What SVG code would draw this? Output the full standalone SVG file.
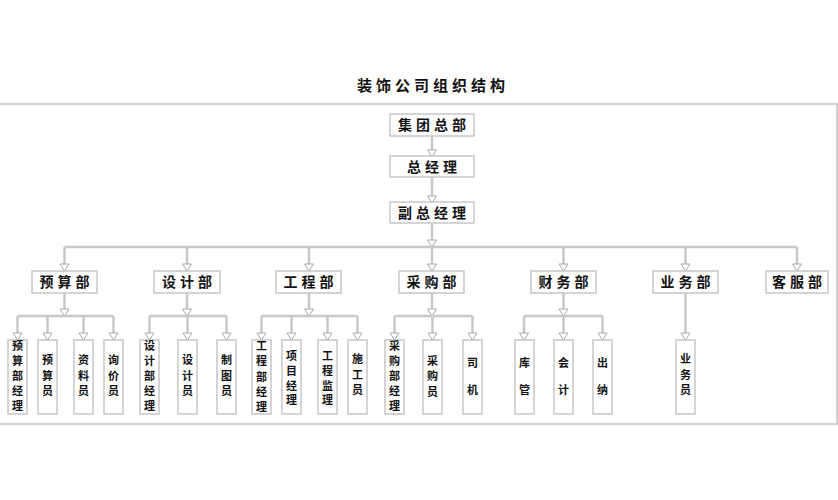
<svg xmlns="http://www.w3.org/2000/svg" width="838" height="500" viewBox="0 0 838 500">
<style>
.bx{fill:#fff;stroke:#c6c6c6;stroke-width:1.5}
.t{font-family:"Noto Sans CJK SC","Noto Sans",sans-serif;font-weight:700;fill:#111;text-anchor:middle}
.tt{font-size:15px;letter-spacing:4px}
.td{font-size:14px;letter-spacing:4px}
.v{font-size:11px;writing-mode:vertical-rl}
.v5{letter-spacing:4.2px}
.v3{letter-spacing:4.5px}
.v4{letter-spacing:3.7px}
.v2{letter-spacing:16px}
.c{fill:none;stroke:#c8c8c8;stroke-width:2.5}
.ca{fill:none;stroke:#c8c8c8;stroke-width:2.5;marker-end:url(#arr)}
.frame{fill:none;stroke:#d2d2d2;stroke-width:2}
</style>
<defs>
<marker id="arr" viewBox="-1 -1 9 11" refX="7" refY="4.5" markerWidth="9" markerHeight="11" orient="auto" markerUnits="userSpaceOnUse">
<path d="M0,0 L7,4.5 L0,9 Z" fill="#fff" stroke="#a8a8a8" stroke-width="1"/>
</marker>
</defs>
<rect width="838" height="500" fill="#fff"/>
<text class="t tt" x="433" y="91">装饰公司组织结构</text>
<rect class="frame" x="-2" y="104" width="839" height="320"/>

<g id="connectors">
<line class="ca" x1="432" y1="136" x2="432" y2="157"/>
<line class="ca" x1="432" y1="177" x2="432" y2="203"/>
<line class="ca" x1="432" y1="223" x2="432" y2="247"/>
<line class="c" x1="64.5" y1="247" x2="797" y2="247"/>
<line class="ca" x1="64.5" y1="247" x2="64.5" y2="271"/>
<line class="ca" x1="187" y1="247" x2="187" y2="271"/>
<line class="ca" x1="309" y1="247" x2="309" y2="271"/>
<line class="ca" x1="432" y1="247" x2="432" y2="271"/>
<line class="ca" x1="563.5" y1="247" x2="563.5" y2="271"/>
<line class="ca" x1="685.5" y1="247" x2="685.5" y2="271"/>
<line class="ca" x1="797" y1="247" x2="797" y2="271"/>
<line class="ca" x1="64.5" y1="293" x2="64.5" y2="316"/>
<line class="c" x1="17.5" y1="316" x2="113.5" y2="316"/>
<line class="ca" x1="17.5" y1="316" x2="17.5" y2="340"/>
<line class="ca" x1="47.5" y1="316" x2="47.5" y2="340"/>
<line class="ca" x1="83.5" y1="316" x2="83.5" y2="340"/>
<line class="ca" x1="113.5" y1="316" x2="113.5" y2="340"/>
<line class="ca" x1="187" y1="293" x2="187" y2="316"/>
<line class="c" x1="149.5" y1="316" x2="226.5" y2="316"/>
<line class="ca" x1="149.5" y1="316" x2="149.5" y2="340"/>
<line class="ca" x1="187.5" y1="316" x2="187.5" y2="340"/>
<line class="ca" x1="226.5" y1="316" x2="226.5" y2="340"/>
<line class="ca" x1="309" y1="293" x2="309" y2="316"/>
<line class="c" x1="261.5" y1="316" x2="357.5" y2="316"/>
<line class="ca" x1="261.5" y1="316" x2="261.5" y2="340"/>
<line class="ca" x1="291.5" y1="316" x2="291.5" y2="340"/>
<line class="ca" x1="327.5" y1="316" x2="327.5" y2="340"/>
<line class="ca" x1="357.5" y1="316" x2="357.5" y2="340"/>
<line class="ca" x1="432" y1="293" x2="432" y2="316"/>
<line class="c" x1="394.5" y1="316" x2="472.5" y2="316"/>
<line class="ca" x1="394.5" y1="316" x2="394.5" y2="340"/>
<line class="ca" x1="432.5" y1="316" x2="432.5" y2="340"/>
<line class="ca" x1="472.5" y1="316" x2="472.5" y2="340"/>
<line class="ca" x1="563.5" y1="293" x2="563.5" y2="316"/>
<line class="c" x1="524" y1="316" x2="602.5" y2="316"/>
<line class="ca" x1="524" y1="316" x2="524" y2="340"/>
<line class="ca" x1="563.5" y1="316" x2="563.5" y2="340"/>
<line class="ca" x1="602.5" y1="316" x2="602.5" y2="340"/>
<line class="ca" x1="685.5" y1="293" x2="685.5" y2="340"/>
</g>

<g id="n-jituan"><rect class="bx" x="390" y="114" width="84" height="22"/><text class="t td" x="434" y="130">集团总部</text></g>
<g id="n-zongjingli"><rect class="bx" x="390" y="156" width="84" height="21"/><text class="t td" x="434" y="172">总经理</text></g>
<g id="n-fuzong"><rect class="bx" x="390" y="202" width="84" height="21"/><text class="t td" x="434" y="218">副总经理</text></g>

<g id="d-yusuan"><rect class="bx" x="32" y="271" width="65" height="22"/><text class="t td" x="66.5" y="287">预算部</text></g>
<g id="d-sheji"><rect class="bx" x="154" y="271" width="66" height="22"/><text class="t td" x="189" y="287">设计部</text></g>
<g id="d-gongcheng"><rect class="bx" x="276" y="271" width="65" height="22"/><text class="t td" x="310.5" y="287">工程部</text></g>
<g id="d-caigou"><rect class="bx" x="399" y="271" width="65" height="22"/><text class="t td" x="433.5" y="287">采购部</text></g>
<g id="d-caiwu"><rect class="bx" x="531" y="271" width="65" height="22"/><text class="t td" x="565.5" y="287">财务部</text></g>
<g id="d-yewu"><rect class="bx" x="653" y="271" width="65" height="22"/><text class="t td" x="687.5" y="287">业务部</text></g>
<g id="d-kefu"><rect class="bx" x="766" y="271" width="62" height="22"/><text class="t td" x="799" y="287">客服部</text></g>

<g id="s-ysjl"><rect class="bx" x="8" y="340" width="19" height="74"/><text class="t v v5" x="17.5" y="378">预算部经理</text></g>
<g id="s-ysy"><rect class="bx" x="38" y="340" width="19" height="74"/><text class="t v v3" x="47.5" y="378">预算员</text></g>
<g id="s-zly"><rect class="bx" x="74" y="340" width="19" height="74"/><text class="t v v3" x="83.5" y="378">资料员</text></g>
<g id="s-xjy"><rect class="bx" x="104" y="340" width="19" height="74"/><text class="t v v3" x="113.5" y="378">询价员</text></g>

<g id="s-sjjl"><rect class="bx" x="140" y="340" width="19" height="74"/><text class="t v v5" x="149.5" y="378">设计部经理</text></g>
<g id="s-sjy"><rect class="bx" x="178" y="340" width="19" height="74"/><text class="t v v3" x="187.5" y="378">设计员</text></g>
<g id="s-zty"><rect class="bx" x="217" y="340" width="19" height="74"/><text class="t v v3" x="226.5" y="378">制图员</text></g>

<g id="s-gcjl"><rect class="bx" x="252" y="340" width="19" height="74"/><text class="t v v5" x="261.5" y="378.5">工程部经理</text></g>
<g id="s-xmjl"><rect class="bx" x="282" y="340" width="19" height="74"/><text class="t v v4" x="291.5" y="380">项目经理</text></g>
<g id="s-gcjianli"><rect class="bx" x="318" y="340" width="19" height="74"/><text class="t v v4" x="327.5" y="380">工程监理</text></g>
<g id="s-sgy"><rect class="bx" x="348" y="340" width="19" height="74"/><text class="t v v3" x="357.5" y="377">施工员</text></g>

<g id="s-cgjl"><rect class="bx" x="385" y="340" width="19" height="74"/><text class="t v v5" x="394.5" y="378">采购部经理</text></g>
<g id="s-cgy"><rect class="bx" x="423" y="340" width="19" height="74"/><text class="t v v3" x="432.5" y="378.5">采购员</text></g>
<g id="s-sj"><rect class="bx" x="463" y="340" width="19" height="74"/><text class="t v v2" x="472.5" y="384.5">司机</text></g>

<g id="s-kg"><rect class="bx" x="515" y="340" width="19" height="74"/><text class="t v v2" x="524.5" y="384.5">库管</text></g>
<g id="s-kj"><rect class="bx" x="554" y="340" width="19" height="74"/><text class="t v v2" x="563.5" y="384.5">会计</text></g>
<g id="s-cn"><rect class="bx" x="593" y="340" width="19" height="74"/><text class="t v v2" x="602.5" y="384.5">出纳</text></g>

<g id="s-ywy"><rect class="bx" x="676" y="340" width="19" height="74"/><text class="t v v3" x="685.5" y="377">业务员</text></g>
</svg>
